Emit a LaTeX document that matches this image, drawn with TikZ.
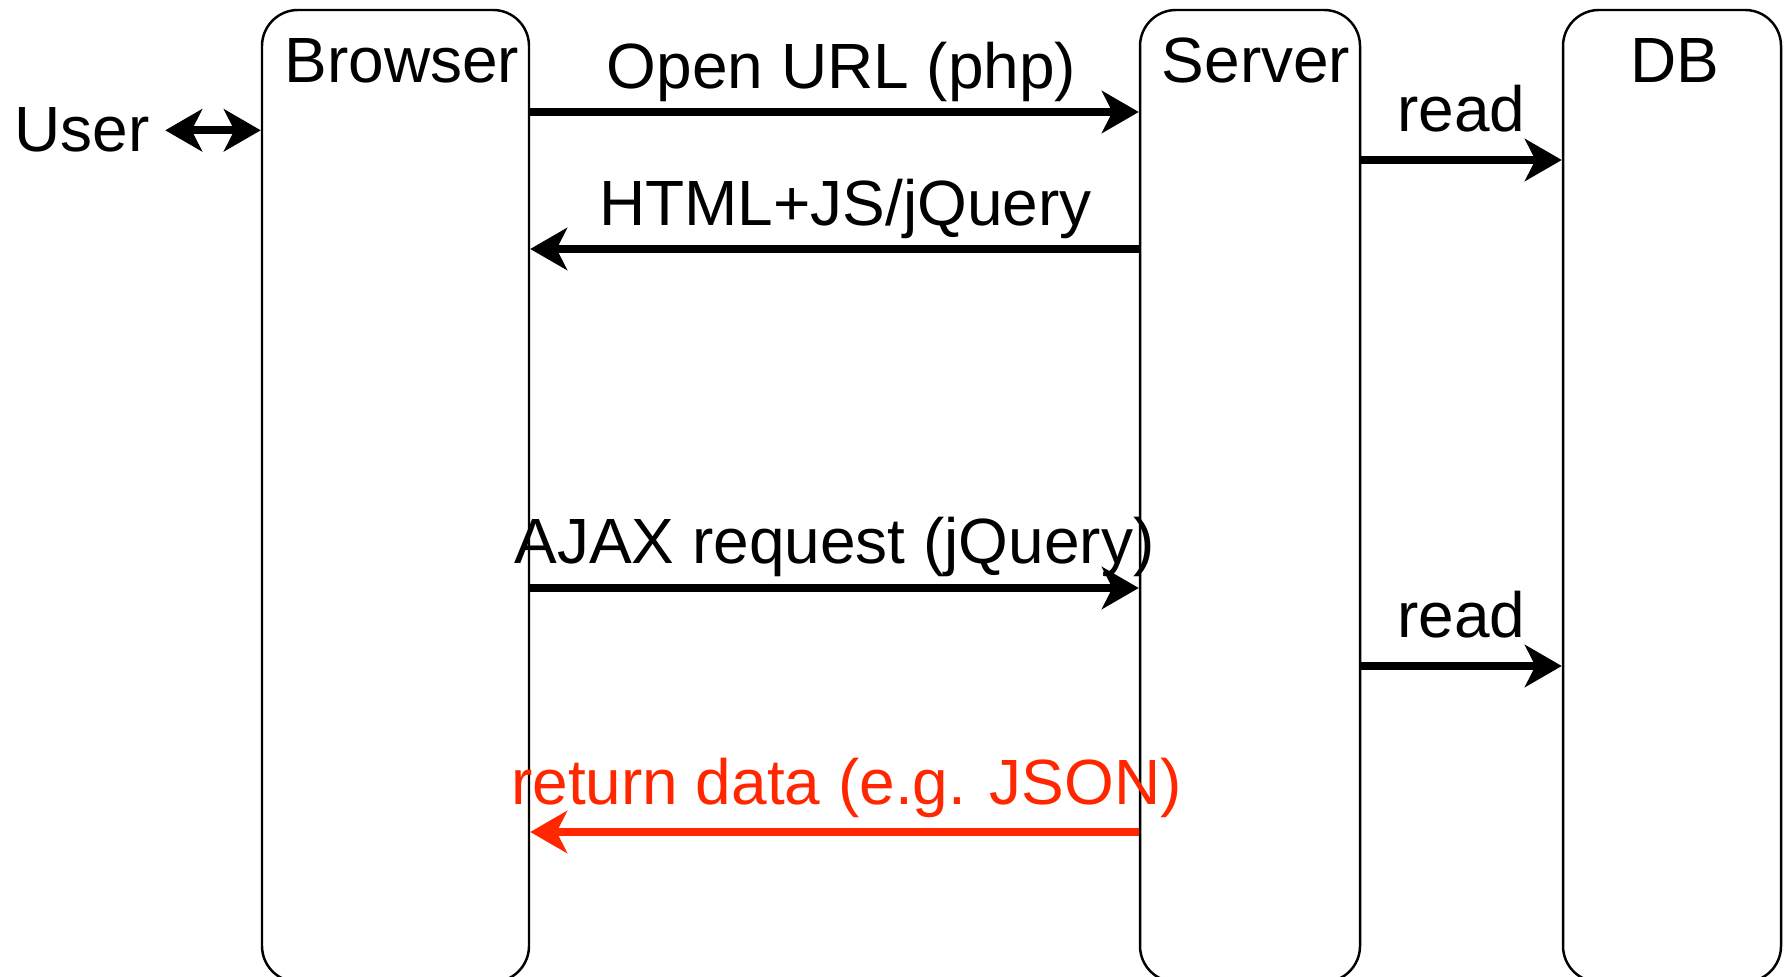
\documentclass[tikz,border=0pt]{standalone}
\usepackage{fontspec}
\setmainfont{Liberation Sans}
\usetikzlibrary{arrows.meta,positioning}
\definecolor{retred}{RGB}{255,38,0}
\newcommand{\dfont}{\fontsize{18.2}{22}\selectfont}

\begin{document}
\begin{tikzpicture}[
  lane/.style={draw, line width=0.7pt, rounded corners=0.36cm,
               minimum width=#1, minimum height=9.72cm, inner sep=0pt},
  ttl/.style={anchor=base, inner sep=0pt, font=\dfont},
  msg/.style={line width=2.3pt, -{Stealth[length=10.5pt, width=12pt, inset=3pt]}, #1},
  msg/.default=black,
  both/.style={line width=2.3pt,
               {Stealth[length=10.5pt, width=12pt, inset=3pt]}-{Stealth[length=10.5pt, width=12pt, inset=3pt]}},
  lbl/.style={anchor=base, inner sep=0pt, font=\dfont, #1},
  lbl/.default=black
]
\useasboundingbox (0,0) rectangle (17.88,-9.77);

%% Lanes
\node[lane=2.67cm] (browser) at (3.955,-4.96) {};
\node[lane=2.20cm] (server)  at (12.50,-4.96) {};
\node[lane=2.18cm] (db)      at (16.72,-4.96) {};

%% Titles
\node[ttl] (browserT) at (4.02,-0.83)  {Browser};
\node[ttl] (serverT)  at (12.56,-0.83) {Server};
\node[ttl] (dbT)      at (16.75,-0.83) {DB};
\node[ttl, inner sep=0.15cm] (user) at (0.82,-1.52) {User};

%% Message rows
\coordinate (rOpen)  at (0,-1.12);
\coordinate (rHtml)  at (0,-2.49);
\coordinate (rRead)  at (0,-1.60);
\coordinate (rAjax)  at (0,-5.88);
\coordinate (rRead2) at (0,-6.66);
\coordinate (rRet)   at (0,-8.32);

%% Arrows
\draw[both] (user.east) -- (browser.west |- user.east);
\draw[msg] (browser.east |- rOpen) -- node[lbl, xshift=0.07cm, yshift=0.23cm] (lOpen) {Open URL (php)} (server.west |- rOpen);
\draw[msg] (server.west |- rHtml) -- node[lbl, xshift=0.11cm, yshift=0.23cm] (lHtml) {HTML+JS/jQuery} (browser.east |- rHtml);
\draw[msg] (server.east |- rRead) -- node[lbl, yshift=0.28cm] (lRead) {read} (db.west |- rRead);
\draw[msg] (browser.east |- rAjax) -- node[lbl, yshift=0.24cm] (lAjax) {AJAX request (jQuery)} (server.west |- rAjax);
\draw[msg] (server.east |- rRead2) -- node[lbl, yshift=0.28cm] (lRead2) {read} (db.west |- rRead2);
\draw[msg=retred] (server.west |- rRet) -- node[lbl=retred, xshift=0.12cm, yshift=0.28cm] (lRet) {return data (e.g. JSON)} (browser.east |- rRet);

\end{tikzpicture}
\end{document}
